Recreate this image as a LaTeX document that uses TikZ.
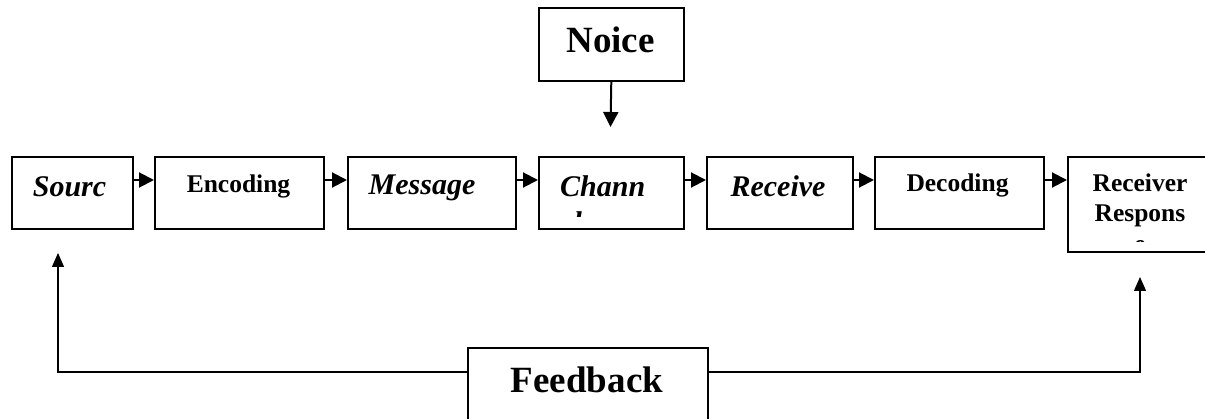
\documentclass[tikz,border=0pt]{standalone}
\usepackage{fontspec}
\setmainfont{Liberation Serif}
\usetikzlibrary{arrows.meta}

\begin{document}
\begin{tikzpicture}[x=1pt,y=-1pt,
  box/.style={draw,line width=1.6pt,rectangle,inner sep=0pt,anchor=north west},
  itlabel/.style={anchor=base,inner sep=0pt,font=\fontsize{30}{34}\selectfont\bfseries\itshape},
  bflabel/.style={anchor=base,inner sep=0pt,font=\fontsize{25.5}{30}\selectfont\bfseries},
  biglabel/.style={anchor=base,inner sep=0pt,font=\fontsize{37}{42}\selectfont\bfseries},
  conn/.style={line width=2pt,-{Triangle[length=15pt,width=15pt]}},
  fbline/.style={line width=1.3pt,-{Triangle[length=14pt,width=12pt]}}]
\useasboundingbox (0,0) rectangle (1205,419);

% main chain of boxes
\node[box,minimum width=121pt,minimum height=72pt] (src) at (11,156) {};
\node[box,minimum width=169pt,minimum height=72pt] (enc) at (154,156) {};
\node[box,minimum width=168pt,minimum height=72pt] (msg) at (347,156) {};
\node[box,minimum width=145pt,minimum height=72pt] (chn) at (538,156) {};
\node[box,minimum width=146pt,minimum height=72pt] (rcv) at (706,156) {};
\node[box,minimum width=169pt,minimum height=72pt] (dec) at (874,156) {};
\node[box,minimum width=148pt,minimum height=95pt] (rsp) at (1067,156) {};

% noise and feedback boxes
\node[box,minimum width=145pt,minimum height=73pt] (noise) at (538,7) {};
\node[box,minimum width=240pt,minimum height=80pt] (fb) at (467,347) {};

% labels
\node[itlabel] (tsrc) at (69.5,197) {Sourc};
\node[bflabel] (tenc) at (238.5,193) {Encoding};
\node[itlabel] (tmsg) at (422,195) {Message};
\begin{scope}
  \clip (538,156) rectangle (683,217);
  \node[itlabel,anchor=base west] (tchn) at (560,197) {Chann};
  \node[itlabel,anchor=base west] (tchn2) at (560,233) {el};
\end{scope}
\node[itlabel] (trcv) at (778,197) {Receive};
\node[bflabel] (tdec) at (957.5,192) {Decoding};
\begin{scope}
  \clip (1067,156) rectangle (1215,242);
  \node[bflabel] (trsp1) at (1140,192) {Receiver};
  \node[bflabel] (trsp2) at (1140,222) {Respons};
  \node[bflabel] (trsp3) at (1140,253) {e};
\end{scope}
\node[biglabel] (tnoise) at (610.5,53) {Noice};
\node[biglabel] (tfb) at (587,393) {Feedback};

% forward connectors
\draw[conn] ([yshift=-24pt]src.north east) -- ([yshift=-24pt]enc.north west);
\draw[conn] ([yshift=-24pt]enc.north east) -- ([yshift=-24pt]msg.north west);
\draw[conn] ([yshift=-24pt]msg.north east) -- ([yshift=-24pt]chn.north west);
\draw[conn] ([yshift=-24pt]chn.north east) -- ([yshift=-24pt]rcv.north west);
\draw[conn] ([yshift=-24pt]rcv.north east) -- ([yshift=-24pt]dec.north west);
\draw[conn] ([yshift=-24pt]dec.north east) -- ([yshift=-24pt]rsp.north west);

% noise enters the channel
\coordinate (ntip) at (610.5,127);
\draw[conn] (noise.south) -- (ntip);

% feedback loop
\coordinate (srctip) at (58,253);
\coordinate (rsptip) at (1140,277);
\draw[fbline] ([yshift=-25pt]fb.north west) -| (srctip);
\draw[fbline] ([yshift=-25pt]fb.north east) -| (rsptip);
\end{tikzpicture}
\end{document}
